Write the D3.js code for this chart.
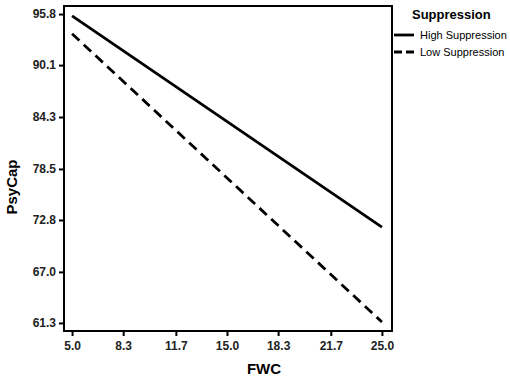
<!DOCTYPE html>
<html>
<head>
<meta charset="utf-8">
<script src="https://cdn.jsdelivr.net/npm/d3@7"></script>
<style>
body { margin: 0; background: #fff; }
text { font-family: "Liberation Sans", Arial, sans-serif; }
</style>
</head>
<body>
<svg id="chart" width="510" height="382"></svg>
<script>
// tick labels
var xTicks = [5.0, 8.3, 11.7, 15.0, 18.3, 21.7, 25.0];
var yTicks = [61.3, 67.0, 72.8, 78.5, 84.3, 90.1, 95.8];

// series (FWC -> PsyCap)
var fwc = [5.0, 25.0];
var highSupp = [95.6, 72.0];
var lowSupp = [93.6, 61.4];
var seriesNames = ["High Suppression", "Low Suppression"];

var svg = d3.select("#chart");
var plotL = 64, plotR = 392, plotT = 6, plotB = 331;

var x = d3.scaleLinear().domain([4.48, 25.65]).range([plotL, plotR]);
var y = d3.scaleLinear().domain([60.4, 96.7]).range([plotB, plotT]);

// frame
svg.append("rect")
  .attr("x", plotL).attr("y", plotT)
  .attr("width", plotR - plotL).attr("height", plotB - plotT)
  .attr("fill", "none").attr("stroke", "#000").attr("stroke-width", 2);

var xAxis = svg.append("g")
  .attr("transform", "translate(0," + plotB + ")")
  .call(d3.axisBottom(x).tickValues(xTicks).tickFormat(d3.format(".1f")).tickSize(5).tickSizeOuter(0));
var yAxis = svg.append("g")
  .attr("transform", "translate(" + plotL + ",0)")
  .call(d3.axisLeft(y).tickValues(yTicks).tickFormat(d3.format(".1f")).tickSize(5).tickSizeOuter(0));

[xAxis, yAxis].forEach(function(a) {
  a.select(".domain").remove();
  a.selectAll("line").attr("stroke", "#000").attr("stroke-width", 2);
  a.selectAll("text").attr("font-size", 12).attr("font-weight", "bold").attr("fill", "#222");
});
xAxis.selectAll("text").attr("dy", "0.95em");

var line = d3.line()
  .x(function(d) { return x(d[0]); })
  .y(function(d) { return y(d[1]); });

svg.append("path")
  .datum(d3.zip(fwc, highSupp))
  .attr("d", line)
  .attr("fill", "none").attr("stroke", "#000").attr("stroke-width", 2.8);

svg.append("path")
  .datum(d3.zip(fwc, lowSupp))
  .attr("d", line)
  .attr("fill", "none").attr("stroke", "#000").attr("stroke-width", 2.8)
  .attr("stroke-dasharray", "10,6");

// axis titles
svg.append("text")
  .attr("x", 264).attr("y", 374)
  .attr("text-anchor", "middle")
  .attr("font-size", 15).attr("font-weight", "bold")
  .text("FWC");

svg.append("text")
  .attr("transform", "translate(17,187) rotate(-90)")
  .attr("text-anchor", "middle")
  .attr("font-size", 15).attr("font-weight", "bold")
  .text("PsyCap");

// legend
var lg = svg.append("g");
lg.append("text")
  .attr("x", 412).attr("y", 19)
  .attr("font-size", 13).attr("font-weight", "bold")
  .text("Suppression");

seriesNames.forEach(function(name, i) {
  var ly = 35 + i * 17;
  lg.append("line")
    .attr("x1", 394).attr("x2", 414)
    .attr("y1", ly).attr("y2", ly)
    .attr("stroke", "#000").attr("stroke-width", 2.8)
    .attr("stroke-dasharray", i === 1 ? "8,4" : null);
  lg.append("text")
    .attr("x", 420).attr("y", ly + 4)
    .attr("font-size", 11)
    .text(name);
});
</script>
</body>
</html>
